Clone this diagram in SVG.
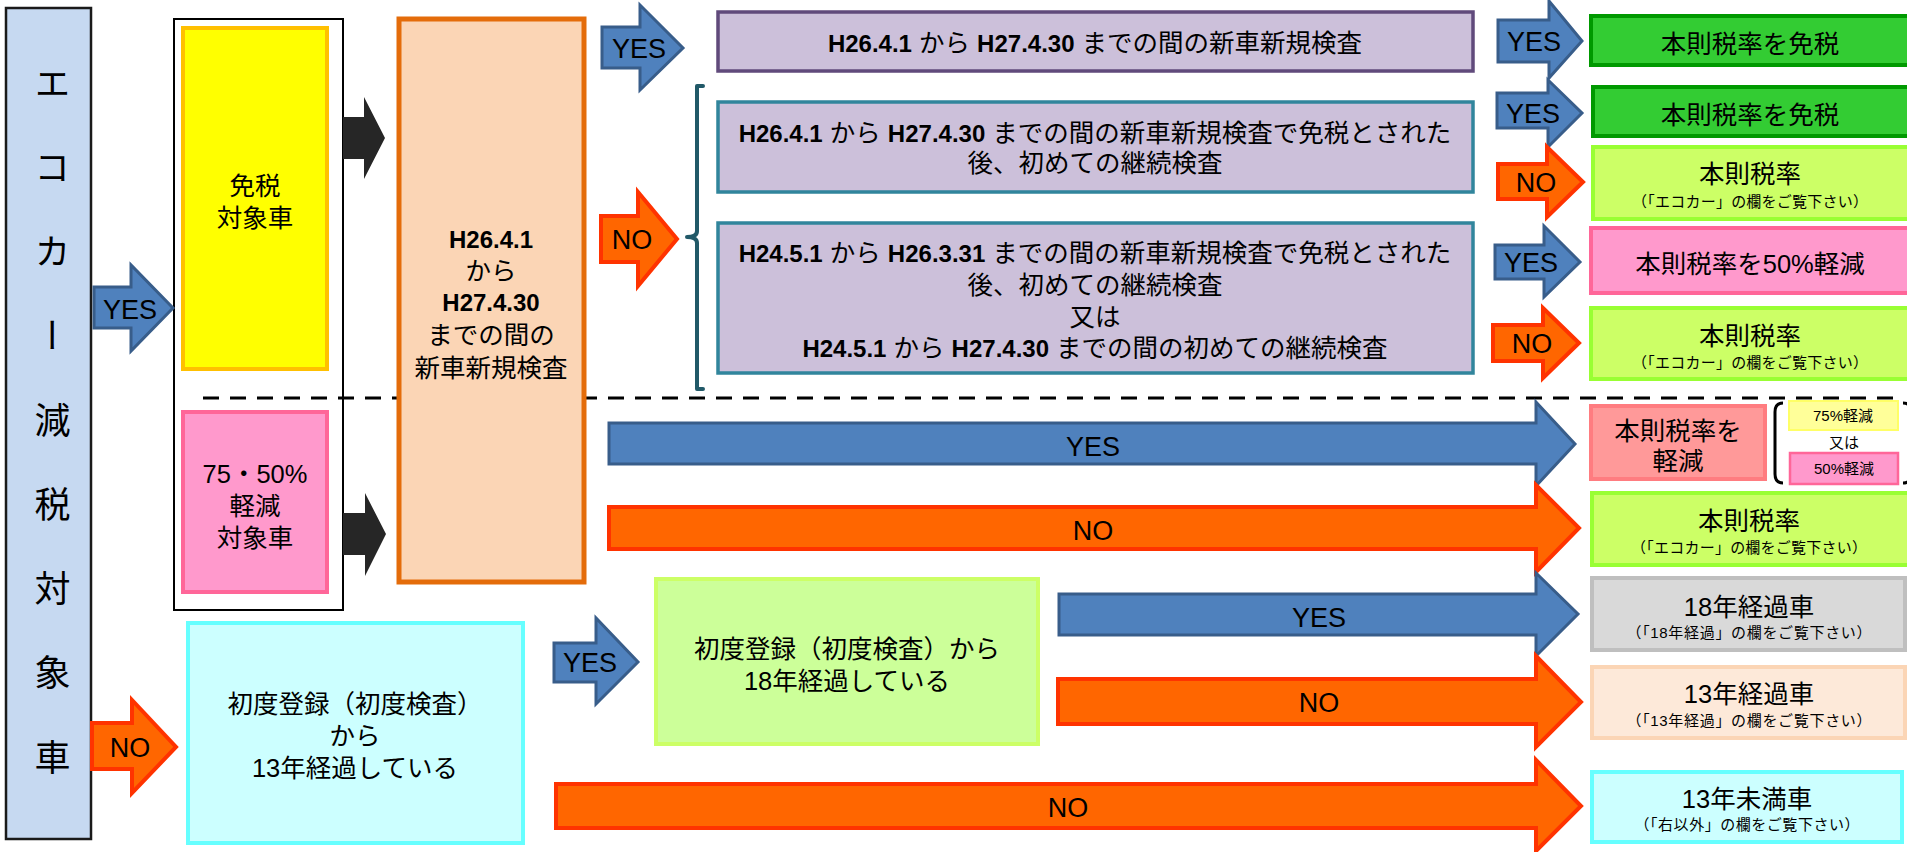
<svg xmlns="http://www.w3.org/2000/svg" width="1907" height="852" viewBox="0 0 1907 852">
<style>
text{font-family:"Liberation Sans","Noto Sans CJK JP",sans-serif;fill:#000;text-anchor:middle}
.t{font-size:25.5px}
.s{font-size:15px}
.b{font-weight:bold;font-size:24px}
.lbl{font-size:27px;font-family:"Liberation Sans",sans-serif}
.blue{fill:#4F81BD;stroke:#385D8A;stroke-width:3}
.orng{fill:#FF6600;stroke:#FF3300;stroke-width:4}
.blk{fill:#262626}
.vio{fill:#CCC0DA;stroke:#31859C;stroke-width:3.5}
.grn{fill:#33CC33;stroke:#009900;stroke-width:4}
.lime{fill:#CCFF66;stroke:#99FF33;stroke-width:4}
.cyan{fill:#CCFFFF;stroke:#66FFFF;stroke-width:4}
.pink{fill:#FF99CC;stroke:#FF6699;stroke-width:4}
</style>

<g id="frame">
<rect x="174" y="19" width="169" height="591" fill="#FFFFFF" stroke="#000" stroke-width="2"/>
<path d="M203,398 H1898" stroke="#000" stroke-width="3" stroke-dasharray="16 11" fill="none"/>
</g>

<g id="eco-car">
<rect x="6" y="8" width="85" height="831" fill="#C6D9F1" stroke="#1A1A1A" stroke-width="2.5"/>
<text x="49" y="65 149 233 317 402 486 570 654 739" style="writing-mode:vertical-rl;font-size:36px;text-anchor:start">エコカー減税対象車</text>
</g>

<g id="menzei">
<rect x="183" y="28" width="144" height="341" fill="#FFFF00" stroke="#FFC000" stroke-width="4"/>
<text class="t" x="255" y="195">免税</text>
<text class="t" x="255" y="227">対象車</text>
</g>

<g id="keigen">
<rect x="183" y="412" width="144" height="180" class="pink"/>
<text class="t" x="255" y="483">75・50%</text>
<text class="t" x="255" y="515">軽減</text>
<text class="t" x="255" y="547">対象車</text>
</g>

<g id="shinki">
<rect x="399" y="19" width="185" height="563" fill="#FBD5B5" stroke="#E46C0A" stroke-width="5"/>
<text class="b" x="491" y="248">H26.4.1</text>
<text class="t" x="491" y="280">から</text>
<text class="b" x="491" y="311">H27.4.30</text>
<text class="t" x="491" y="344">までの間の</text>
<text class="t" x="491" y="377">新車新規検査</text>
</g>

<g id="q1">
<rect x="718" y="12" width="755" height="59" fill="#CCC0DA" stroke="#604A7B" stroke-width="3.5"/>
<text class="t" x="1095" y="52"><tspan class="b">H26.4.1</tspan> から <tspan class="b">H27.4.30</tspan> までの間の新車新規検査</text>
</g>

<g id="q2">
<rect x="718" y="102" width="755" height="90" class="vio"/>
<text class="t" x="1095" y="142"><tspan class="b">H26.4.1</tspan> から <tspan class="b">H27.4.30</tspan> までの間の新車新規検査で免税とされた</text>
<text class="t" x="1095" y="172">後、初めての継続検査</text>
</g>

<g id="q3">
<rect x="718" y="223" width="755" height="150" class="vio"/>
<text class="t" x="1095" y="262"><tspan class="b">H24.5.1</tspan> から <tspan class="b">H26.3.31</tspan> までの間の新車新規検査で免税とされた</text>
<text class="t" x="1095" y="294">後、初めての継続検査</text>
<text class="t" x="1095" y="326">又は</text>
<text class="t" x="1095" y="357"><tspan class="b">H24.5.1</tspan> から <tspan class="b">H27.4.30</tspan> までの間の初めての継続検査</text>
</g>

<g id="brace">
<path d="M703,86 H697 V231 Q697,237 687,237 Q697,237 697,243 V389 H703" fill="none" stroke="#215968" stroke-width="4" stroke-linejoin="round" stroke-linecap="round"/>
</g>

<g id="r1">
<rect x="1591" y="16" width="318" height="49" class="grn"/>
<text class="t" x="1750" y="53">本則税率を免税</text>
</g>
<g id="r2">
<rect x="1593" y="87" width="316" height="49" class="grn"/>
<text class="t" x="1750" y="124">本則税率を免税</text>
</g>
<g id="r3">
<rect x="1593" y="147" width="316" height="72" class="lime"/>
<text class="t" x="1750" y="183">本則税率</text>
<text class="s" x="1750" y="207" textLength="236">（「エコカー」の欄をご覧下さい）</text>
</g>
<g id="r4">
<rect x="1591" y="228" width="318" height="65" class="pink"/>
<text class="t" x="1750" y="273">本則税率を50%軽減</text>
</g>
<g id="r5">
<rect x="1591" y="308" width="318" height="71" class="lime"/>
<text class="t" x="1750" y="345">本則税率</text>
<text class="s" x="1750" y="368" textLength="236">（「エコカー」の欄をご覧下さい）</text>
</g>

<g id="r6">
<rect x="1591" y="406" width="174" height="73" fill="#FF9999" stroke="#FF7C80" stroke-width="4"/>
<text class="t" x="1678" y="440">本則税率を</text>
<text class="t" x="1678" y="470">軽減</text>
</g>
<g id="r6-detail">
<path d="M1783,403 Q1775,403 1775,412 V474 Q1775,483 1783,483" fill="none" stroke="#000" stroke-width="3"/>
<path d="M1903,403 Q1911,403 1911,412 V474 Q1911,483 1903,483" fill="none" stroke="#000" stroke-width="3"/>
<rect x="1789" y="401" width="109" height="29" fill="#FFFF99" stroke="#FFFF66" stroke-width="2"/>
<text class="s" x="1843" y="421">75%軽減</text>
<text class="s" x="1844" y="448">又は</text>
<rect x="1790" y="453" width="108" height="31" fill="#FF99CC" stroke="#FF6699" stroke-width="2.5"/>
<text class="s" x="1844" y="474">50%軽減</text>
</g>

<g id="r7">
<rect x="1592" y="493" width="317" height="72" class="lime"/>
<text class="t" x="1749" y="530">本則税率</text>
<text class="s" x="1749" y="553" textLength="236">（「エコカー」の欄をご覧下さい）</text>
</g>
<g id="r8">
<rect x="1592" y="578" width="313" height="72" fill="#D9D9D9" stroke="#BFBFBF" stroke-width="4"/>
<text class="t" x="1749" y="616">18年経過車</text>
<text class="s" x="1749" y="638" textLength="245">（「18年経過」の欄をご覧下さい）</text>
</g>
<g id="r9">
<rect x="1592" y="667" width="313" height="71" fill="#FDE9D9" stroke="#FBD5B5" stroke-width="4"/>
<text class="t" x="1749" y="703">13年経過車</text>
<text class="s" x="1749" y="726" textLength="245">（「13年経過」の欄をご覧下さい）</text>
</g>
<g id="r10">
<rect x="1592" y="772" width="310" height="70" class="cyan"/>
<text class="t" x="1747" y="808">13年未満車</text>
<text class="s" x="1747" y="830" textLength="225">（「右以外」の欄をご覧下さい）</text>
</g>

<g id="q13">
<rect x="188" y="623" width="335" height="220" class="cyan"/>
<text class="t" x="355" y="713">初度登録（初度検査）</text>
<text class="t" x="355" y="745">から</text>
<text class="t" x="355" y="777">13年経過している</text>
</g>

<g id="q18">
<rect x="656" y="579" width="382" height="165" fill="#CCFF99" stroke="#CCFF66" stroke-width="4"/>
<text class="t" x="847" y="658">初度登録（初度検査）から</text>
<text class="t" x="847" y="690">18年経過している</text>
</g>

<g id="connectors">
<path class="blk" d="M343,117 H364 V97 L385,138 L364,179 V159 H343 Z"/>
<path class="blk" d="M343,513 H365 V493 L386,534 L365,576 V555 H343 Z"/>
<path class="blue" d="M94,287 H131 V265 L173,308 L131,351 V328 H94 Z"/>
<text class="lbl" x="130" y="319">YES</text>
<path class="orng" d="M92,723 H132 V700 L176,747 L132,793 V769 H92 Z"/>
<text class="lbl" x="130" y="757">NO</text>
<path class="blue" d="M602,27 H640 V5 L683,48 L640,90 V68 H602 Z"/>
<text class="lbl" x="639" y="58">YES</text>
<path class="orng" d="M601,216 H638 V192 L677,239 L638,286 V262 H601 Z"/>
<text class="lbl" x="632" y="249">NO</text>
<path class="blue" d="M1498,20 H1549 V1 L1582,41 L1549,78 V62 H1498 Z"/>
<text class="lbl" x="1534" y="51">YES</text>
<path class="blue" d="M1497,93 H1548 V80 L1582,113 L1548,147 V128 H1497 Z"/>
<text class="lbl" x="1533" y="123">YES</text>
<path class="orng" d="M1498,164 H1547 V147 L1583,182 L1547,217 V199 H1498 Z"/>
<text class="lbl" x="1536" y="192">NO</text>
<path class="blue" d="M1495,245 H1544 V226 L1580,262 L1544,297 V279 H1495 Z"/>
<text class="lbl" x="1531" y="272">YES</text>
<path class="orng" d="M1493,325 H1543 V308 L1579,343 L1543,378 V361 H1493 Z"/>
<text class="lbl" x="1532" y="353">NO</text>
<path class="blue" d="M609,423 H1536 V402 L1575,444 L1536,486 V464 H609 Z"/>
<text class="lbl" x="1093" y="456">YES</text>
<path class="orng" d="M609,507 H1536 V485 L1579,528 L1536,572 V549 H609 Z"/>
<text class="lbl" x="1093" y="540">NO</text>
<path class="blue" d="M554,643 H596 V618 L638,662 L596,704 V682 H554 Z"/>
<text class="lbl" x="590" y="672">YES</text>
<path class="blue" d="M1059,594 H1536 V573 L1578,614 L1536,656 V635 H1059 Z"/>
<text class="lbl" x="1319" y="627">YES</text>
<path class="orng" d="M1058,679 H1536 V656 L1581,702 L1536,747 V724 H1058 Z"/>
<text class="lbl" x="1319" y="712">NO</text>
<path class="orng" d="M556,784 H1536 V760 L1581,806 L1536,851 V828 H556 Z"/>
<text class="lbl" x="1068" y="817">NO</text>
</g>
</svg>
